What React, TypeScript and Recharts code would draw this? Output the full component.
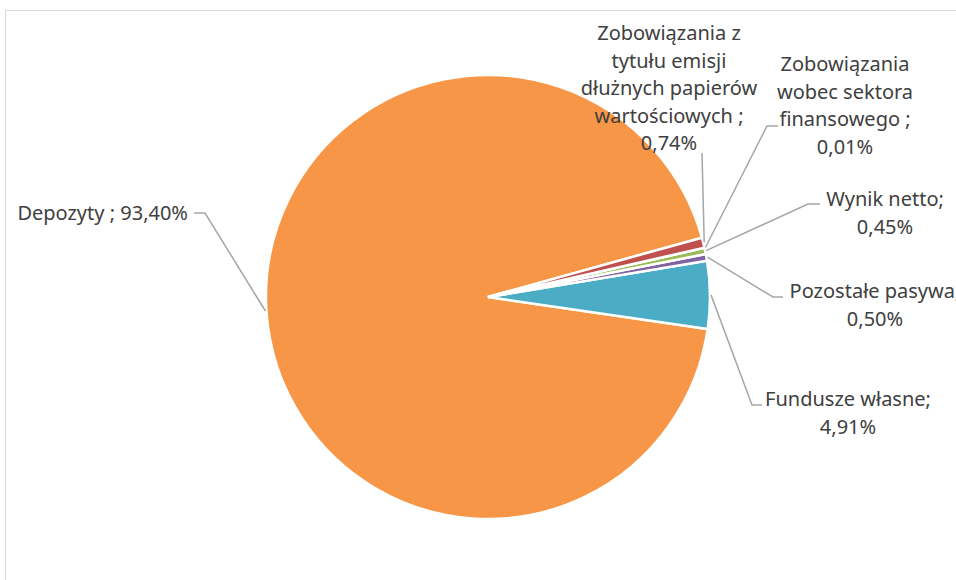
import { PieChart, Pie, Cell } from "recharts";

// slices in drawing order (counterclockwise from the start angle)
const CATEGORIES = [
  "Depozyty",
  "Fundusze własne",
  "Pozostałe pasywa",
  "Wynik netto",
  "Zobowiązania wobec sektora finansowego",
  "Zobowiązania z tytułu emisji dłużnych papierów wartościowych",
];
const SHARES = [93.4, 4.91, 0.5, 0.45, 0.01, 0.74];
const LABEL_NAMES = [
  ["Depozyty ;"],
  ["Fundusze własne;"],
  ["Pozostałe pasywa;"],
  ["Wynik netto;"],
  ["Zobowiązania", "wobec sektora", "finansowego ;"],
  ["Zobowiązania z", "tytułu emisji", "dłużnych papierów", "wartościowych ;"],
];

const COLORS = ["#F79646", "#4BACC6", "#8064A2", "#9BBB59", "#4F81BD", "#C0504D"];

// manual label placement, like the hand-dragged labels in the original
const LABEL_LAYOUT = [
  { x: 188, y: 212, anchor: "end", inline: true, elbow: [205, 213], end: [194, 213] },
  { x: 848, y: 398, anchor: "middle", inline: false, elbow: [752, 405], end: [762, 405] },
  { x: 875, y: 290, anchor: "middle", inline: false, elbow: [773, 297], end: [783, 297] },
  { x: 885, y: 198, anchor: "middle", inline: false, elbow: [808, 204], end: [820, 204] },
  { x: 845, y: 63, anchor: "middle", inline: false, elbow: [767, 126], end: [778, 126] },
  { x: 669, y: 32, anchor: "middle", inline: false, elbow: [702, 153], end: [702, 153] },
];

const LINE_HEIGHT = 27.5;
const RADIAN = Math.PI / 180;

const data = CATEGORIES.map((name, i) => ({ name, value: SHARES[i] }));

const fmt = (v: number) => v.toFixed(2).replace(".", ",") + "%";

function renderLabel(props: any) {
  const { cx, cy, midAngle, outerRadius, index, value } = props;
  const lay = LABEL_LAYOUT[index];
  const sx = cx + (outerRadius + 1) * Math.cos(-midAngle * RADIAN);
  const sy = cy + (outerRadius + 1) * Math.sin(-midAngle * RADIAN);
  const names = LABEL_NAMES[index];
  const lines = lay.inline
    ? [names.join(" ") + " " + fmt(value)]
    : [...names, fmt(value)];
  return (
    <g key={`lbl-${index}`}>
      <polyline
        points={`${sx},${sy} ${lay.elbow[0]},${lay.elbow[1]} ${lay.end[0]},${lay.end[1]}`}
        fill="none"
        stroke="#A6A6A6"
        strokeWidth={1.5}
      />
      <text
        x={lay.x}
        y={lay.y}
        textAnchor={lay.anchor}
        dominantBaseline="central"
        fill="#404040"
        fontSize={20}
        fontFamily="'Noto Sans', sans-serif"
      >
        {lines.map((l, j) => (
          <tspan key={j} x={lay.x} y={lay.y + j * LINE_HEIGHT}>
            {l}
          </tspan>
        ))}
      </text>
    </g>
  );
}

export default function App() {
  return (
    <div
      style={{
        position: "fixed",
        left: 0,
        top: 0,
        width: 956,
        height: 580,
        overflow: "hidden",
        background: "#fff",
      }}
    >
      <div
        style={{
          position: "absolute",
          left: 5,
          top: 10,
          width: 1000,
          height: 1000,
          border: "1px solid #D9D9D9",
        }}
      />
      <div style={{ position: "absolute", left: 0, top: 0 }}>
        <PieChart width={956} height={580} margin={{ top: 0, right: 0, bottom: 0, left: 0 }}>
          <Pie
            data={data}
            dataKey="value"
            nameKey="name"
            cx={488}
            cy={297}
            outerRadius={222}
            startAngle={15.5}
            endAngle={375.5}
            stroke="#FFFFFF"
            strokeWidth={2.5}
            label={renderLabel}
            labelLine={false}
            isAnimationActive={false}
          >
            {data.map((_, i) => (
              <Cell key={i} fill={COLORS[i]} />
            ))}
          </Pie>
        </PieChart>
      </div>
    </div>
  );
}
